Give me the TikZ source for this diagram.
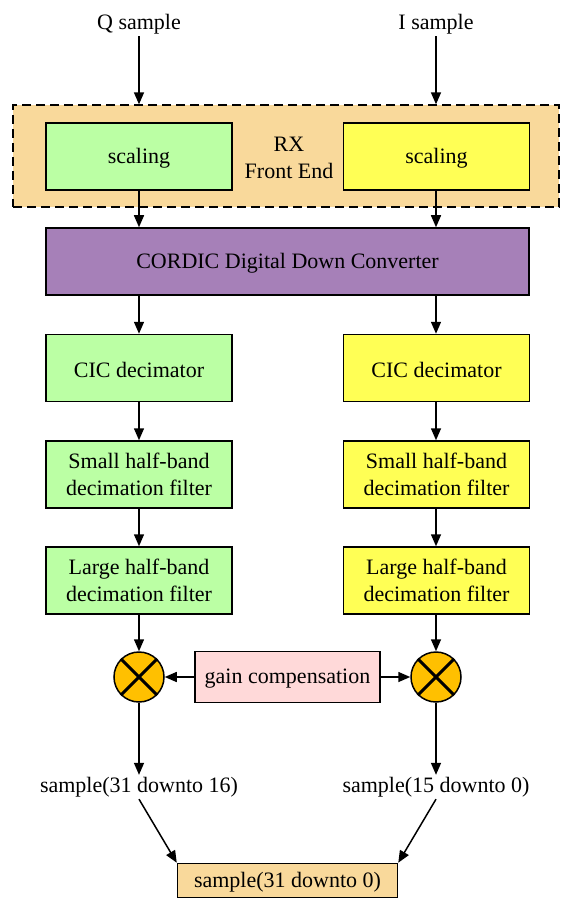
\documentclass[tikz,border=0pt]{standalone}
\usepackage{fontspec}
\setmainfont{Liberation Serif}
\usetikzlibrary{arrows.meta}
\definecolor{qgreen}{HTML}{BBFFA4}
\definecolor{iyellow}{HTML}{FFFF55}
\definecolor{cordic}{HTML}{A680B8}
\definecolor{frontend}{HTML}{F9D99B}
\definecolor{gainpink}{HTML}{FFD9D9}
\definecolor{mixer}{HTML}{FFC000}
% shift a one-line label down without changing its box
\newcommand{\dn}[2][2pt]{\raisebox{-#1}[\height][\depth]{#2}}
\tikzset{
  blk/.style={draw, line width=1.5pt, minimum width=186pt, minimum height=67pt,
    align=center, inner sep=0pt},
  qblk/.style={blk, fill=qgreen},
  iblk/.style={blk, fill=iyellow},
  arr/.style={-{Triangle[length=12pt,width=10pt]}, line width=1.5pt},
  mult/.style={circle, draw, fill=mixer, minimum size=50pt, inner sep=0pt, line width=1.5pt},
  lbl/.style={align=center, inner sep=2pt},
}
\begin{document}
\begin{tikzpicture}[x=1pt, y=-1pt, font=\fontsize{22}{27.5}\selectfont]
\useasboundingbox (0,0) rectangle (561,901);

% inputs
\node[lbl] (qin) at (139,24) {Q sample};
\node[lbl] (iin) at (436,24) {I sample};

% RX front end cluster
\node[draw, dashed, dash pattern=on 9pt off 5pt, line width=1.3pt, fill=frontend,
      minimum width=546pt, minimum height=102pt, inner sep=0pt] (fe) at (286,156) {};
\node[lbl] (felbl) at (289,158) {RX\\Front End};
\node[qblk] (qscale) at (139,156.5) {\dn{scaling}};
\node[iblk] (iscale) at (436.5,156.5) {\dn{scaling}};

% CORDIC
\node[blk, fill=cordic, minimum width=483pt] (ddc) at (287.5,261.5)
  {\dn{CORDIC Digital Down Converter}};

% decimation chains
\node[qblk] (qcic) at (139,368) {\dn{CIC decimator}};
\node[iblk] (icic) at (436.5,368) {\dn{CIC decimator}};
\node[qblk] (qsh) at (139,474.5) {Small half-band\\decimation filter};
\node[iblk] (ish) at (436.5,474.5) {Small half-band\\decimation filter};
\node[qblk] (qlh) at (139,580.5) {Large half-band\\decimation filter};
\node[iblk] (ilh) at (436.5,580.5) {Large half-band\\decimation filter};

% gain stage
\node[mult] (qm) at (139,677) {};
\node[mult] (im) at (436,677) {};
\foreach \m in {qm,im} {
  \draw[line width=3pt] (\m.north west) -- (\m.south east);
  \draw[line width=3pt] (\m.north east) -- (\m.south west);
}
\node[draw, fill=gainpink, line width=1.5pt, minimum width=185pt, minimum height=51pt,
      inner sep=0pt] (gain) at (287.5,677) {\dn{gain compensation}};

% outputs
\node[lbl] (qout) at (139,787) {sample(31 downto 16)};
\node[lbl] (iout) at (436,787) {sample(15 downto 0)};
\node[draw, fill=frontend, line width=1.5pt, minimum width=220pt, minimum height=34pt,
      inner sep=0pt] (out) at (287.5,880.5) {\dn[1.5pt]{sample(31 downto 0)}};

% connectors
\draw[arr] (qin.south) -- (qin.south |- fe.north);
\draw[arr] (iin.south) -- (iin.south |- fe.north);
\draw[arr] (qscale.south) -- (qscale.south |- ddc.north);
\draw[arr] (iscale.south -| iin.south) -- (iin.south |- ddc.north);
\draw[arr] (qcic.north |- ddc.south) -- (qcic.north);
\draw[arr] (iin.south |- ddc.south) -- (iin.south |- icic.north);
\draw[arr] (qcic) -- (qsh);
\draw[arr] (iin.south |- icic.south) -- (iin.south |- ish.north);
\draw[arr] (qsh) -- (qlh);
\draw[arr] (iin.south |- ish.south) -- (iin.south |- ilh.north);
\draw[arr] (qlh.south) -- (qm.north);
\draw[arr] (iin.south |- ilh.south) -- (im.north);
\draw[arr] (gain.west) -- (qm.east);
\draw[arr] (gain.east) -- (im.west);
\draw[arr] (qm.south) -- (qout.north);
\draw[arr] (im.south) -- (iout.north);
\draw[arr] (qout.south) -- (out.north west);
\draw[arr] (iout.south) -- (out.north east);
\end{tikzpicture}
\end{document}
